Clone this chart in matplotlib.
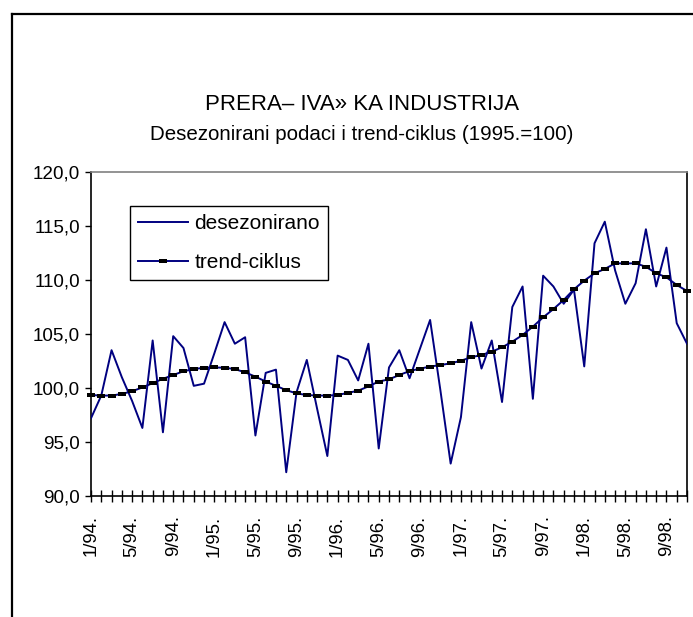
import matplotlib
matplotlib.use("Agg")
import matplotlib.pyplot as plt
from matplotlib.lines import Line2D

plt.rcParams['font.family'] = ['Liberation Sans', 'DejaVu Sans']

# ---------------- data ----------------
deseason = [97.2, 99.3, 103.5, 101.0, 98.8, 96.3, 104.4, 95.9, 104.8, 103.7,
            100.2, 100.4, 103.2, 106.1, 104.1, 104.7, 95.6, 101.4, 101.7, 92.2,
            99.6, 102.6, 98.1, 93.7, 103.0, 102.6, 100.7, 104.1, 94.4, 101.9,
            103.5, 100.9, 103.6, 106.3, 99.8, 93.0, 97.3, 106.1, 101.8, 104.4,
            98.7, 107.5, 109.4, 99.0, 110.4, 109.4, 107.8, 109.1, 102.0, 113.4,
            115.4, 110.9, 107.8, 109.7, 114.7, 109.4, 113.0, 106.0, 104.1]

trend = [99.35, 99.3, 99.3, 99.45, 99.7, 100.05, 100.45, 100.85, 101.2, 101.55,
         101.75, 101.88, 101.9, 101.88, 101.75, 101.45, 101.05, 100.6, 100.2, 99.8,
         99.5, 99.35, 99.3, 99.3, 99.35, 99.55, 99.75, 100.15, 100.6, 100.8,
         101.2, 101.57, 101.79, 101.98, 102.13, 102.28, 102.53, 102.84, 103.06, 103.36,
         103.77, 104.29, 104.91, 105.68, 106.54, 107.31, 108.15, 109.14, 109.94, 110.62,
         111.02, 111.54, 111.54, 111.54, 111.23, 110.62, 110.25, 109.54, 108.98]

tick_labels = ["1/94.", "5/94.", "9/94.", "1/95.", "5/95.", "9/95.", "1/96.",
               "5/96.", "9/96.", "1/97.", "5/97.", "9/97.", "1/98.", "5/98.", "9/98."]
y_ticks = [90, 95, 100, 105, 110, 115, 120]

series_names = ["desezonirano", "trend-ciklus"]
title = "PRERA\u2013 IVA\u00bb KA INDUSTRIJA"
subtitle = "Desezonirani podaci i trend-ciklus (1995.=100)"

# ---------------- figure ----------------
W, H = 693, 617
fig = plt.figure(figsize=(W / 100, H / 100), dpi=100)
fig.patch.set_facecolor('white')

ax_l, ax_r, ax_t, ax_b = 91, 687, 172, 496
ax = fig.add_axes([ax_l / W, 1 - ax_b / H, (ax_r - ax_l) / W, (ax_b - ax_t) / H])

navy = '#000080'
x = list(range(len(deseason)))
ax.plot(x, deseason, color=navy, lw=1.4, label=series_names[0], zorder=3)

rect = [(-1, -0.4), (1, -0.4), (1, 0.4), (-1, 0.4), (-1, -0.4)]
ax.plot(x, trend, color=navy, lw=1.4, marker=rect, markersize=6.2,
        markerfacecolor='black', markeredgecolor='black', markeredgewidth=0,
        label=series_names[1], zorder=4, clip_on=False)

ax.set_xlim(0, len(deseason) - 1)
ax.set_ylim(90, 120)

ax.set_yticks(y_ticks)
ax.set_yticklabels([f"{v:.1f}".replace('.', ',') for v in y_ticks], fontsize=13.6)
ax.tick_params(axis='y', direction='out', length=4, width=1, pad=4, color='black')

ax.set_xticks(x)
labels = [''] * len(x)
for k, lab in enumerate(tick_labels):
    labels[4 * k] = lab
ax.set_xticklabels(labels, rotation=90, fontsize=13.3, va='top', ha='center')
ax.tick_params(axis='x', direction='inout', length=8, width=1, pad=10, color='black')

for s in ['left', 'bottom', 'right']:
    ax.spines[s].set_color('black')
    ax.spines[s].set_linewidth(1.2)
ax.spines['top'].set_color('#808080')
ax.spines['top'].set_linewidth(1.2)

leg = ax.legend(loc='upper left', bbox_to_anchor=((130 - ax_l) / (ax_r - ax_l), (ax_b - 206) / (ax_b - ax_t)),
                borderaxespad=0, fontsize=15, frameon=True, fancybox=False,
                edgecolor='black', framealpha=1, handlelength=2.4, handletextpad=0.28,
                labelspacing=0.95, borderpad=0.4)
leg.get_frame().set_linewidth(1.0)

fig.text(362 / W, 1 - 104 / H, title, ha='center', va='center', fontsize=16)
fig.text(362 / W, 1 - 134 / H, subtitle, ha='center', va='center', fontsize=14.8)

# outer chart border (partly outside the picture)
fig.add_artist(Line2D([12 / W, 12 / W], [0, 1 - 14 / H], transform=fig.transFigure,
                      color='black', lw=1.6))
fig.add_artist(Line2D([12 / W, 1], [1 - 14 / H, 1 - 14 / H], transform=fig.transFigure,
                      color='black', lw=1.6))

fig.savefig('out.png', dpi=100)
